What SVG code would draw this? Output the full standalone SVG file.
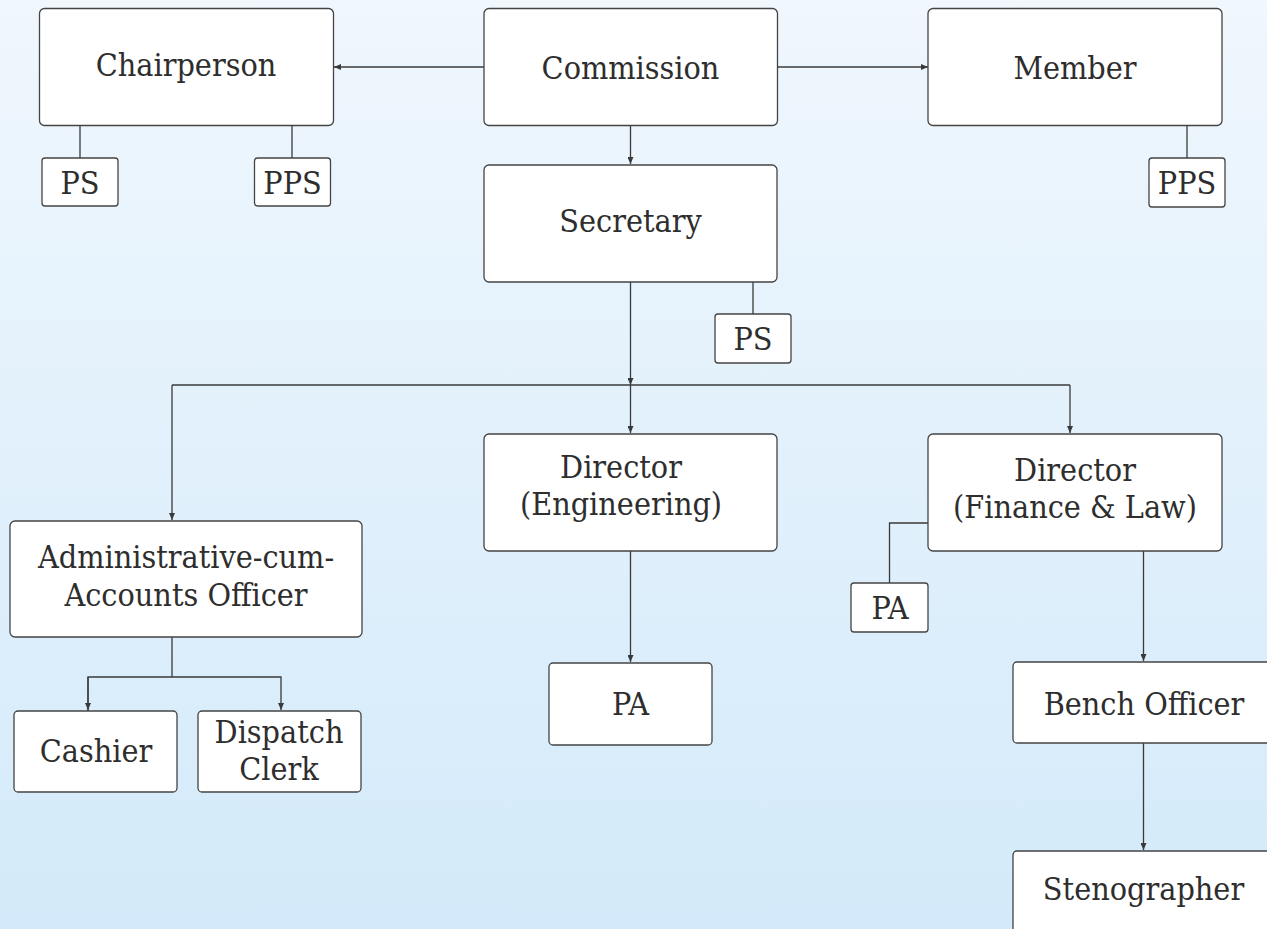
<svg xmlns="http://www.w3.org/2000/svg" width="1267" height="929" viewBox="0 0 1267 929">
<defs>
<linearGradient id="bg" x1="0" y1="0" x2="0" y2="1">
<stop offset="0" stop-color="#f0f7fd"/>
<stop offset="1" stop-color="#d3eafa"/>
</linearGradient>
<marker id="ah" markerUnits="userSpaceOnUse" markerWidth="7" markerHeight="6" refX="7" refY="3" orient="auto">
<path d="M0,0 L7,3 L0,6 z" fill="#3a3a3a"/>
</marker>
</defs>
<style>
.box{fill:#fff;stroke:#444;stroke-width:1.3}
.t{font-family:"DejaVu Serif Condensed","DejaVu Serif",serif;font-stretch:condensed;font-size:32px;fill:#2e2e2e;text-anchor:middle}
.c{fill:none;stroke:#3a3a3a;stroke-width:1.3}
.a{marker-end:url(#ah)}
</style>
<rect width="1267" height="929" fill="url(#bg)"/>
<g id="connectors">
<line class="c a" x1="484" y1="67" x2="334" y2="67"/>
<line class="c a" x1="777" y1="67" x2="928" y2="67"/>
<line class="c a" x1="630.5" y1="125" x2="630.5" y2="164"/>
<line class="c" x1="80" y1="125" x2="80" y2="158"/>
<line class="c" x1="292" y1="125" x2="292" y2="158"/>
<line class="c" x1="1187" y1="125" x2="1187" y2="158"/>
<line class="c" x1="753" y1="282" x2="753" y2="314"/>
<line class="c a" x1="630.5" y1="282" x2="630.5" y2="385"/>
<line class="c a" x1="630.5" y1="385" x2="630.5" y2="433"/>
<line class="c" x1="172" y1="385" x2="1070" y2="385"/>
<line class="c a" x1="172" y1="385" x2="172" y2="520"/>
<line class="c a" x1="1070" y1="385" x2="1070" y2="433"/>
<line class="c a" x1="630.5" y1="551" x2="630.5" y2="662"/>
<polyline class="c" points="928,523 889.5,523 889.5,583"/>
<line class="c a" x1="1143.5" y1="551" x2="1143.5" y2="661"/>
<line class="c a" x1="1143.5" y1="743" x2="1143.5" y2="850"/>
<line class="c" x1="172" y1="637" x2="172" y2="677"/>
<polyline class="c a" points="88,711 88,677 281,677 281,710" style="marker-end:url(#ah)"/>
<line class="c a" x1="88" y1="677" x2="88" y2="710"/>
</g>
<g id="chairperson"><rect class="box" x="39.5" y="8.5" width="294" height="117" rx="5"/><text class="t" x="186" y="76">Chairperson</text></g>
<g id="commission"><rect class="box" x="484" y="8.5" width="293.5" height="117" rx="5"/><text class="t" x="630.5" y="79">Commission</text></g>
<g id="member"><rect class="box" x="928" y="8.5" width="294" height="117" rx="5"/><text class="t" x="1075" y="79">Member</text></g>
<g id="chair-ps"><rect class="box" x="42" y="158" width="76" height="48" rx="3"/><text class="t" x="80" y="194">PS</text></g>
<g id="chair-pps"><rect class="box" x="254.5" y="158" width="76" height="48" rx="3"/><text class="t" x="292.5" y="194">PPS</text></g>
<g id="member-pps"><rect class="box" x="1149" y="158" width="76" height="49" rx="3"/><text class="t" x="1187" y="194">PPS</text></g>
<g id="secretary"><rect class="box" x="484" y="165" width="293" height="117" rx="5"/><text class="t" x="630.5" y="232">Secretary</text></g>
<g id="secretary-ps"><rect class="box" x="715" y="314" width="76" height="49" rx="3"/><text class="t" x="753" y="350">PS</text></g>
<g id="director-engineering"><rect class="box" x="484" y="434" width="293" height="117" rx="5"/><text class="t" x="621" y="478">Director</text><text class="t" x="621" y="515">(Engineering)</text></g>
<g id="director-finance-law"><rect class="box" x="928" y="434" width="294" height="117" rx="5"/><text class="t" x="1075" y="481">Director</text><text class="t" x="1075" y="518">(Finance &amp; Law)</text></g>
<g id="admin-officer"><rect class="box" x="10" y="521" width="352" height="116" rx="5"/><text class="t" x="186" y="568">Administrative-cum-</text><text class="t" x="186" y="606">Accounts Officer</text></g>
<g id="pa-engineering"><rect class="box" x="549" y="663" width="163" height="82" rx="4"/><text class="t" x="630.5" y="715">PA</text></g>
<g id="pa-finance"><rect class="box" x="851" y="583" width="77" height="49" rx="3"/><text class="t" x="890" y="619">PA</text></g>
<g id="bench-officer"><rect class="box" x="1013" y="662" width="270" height="81" rx="4"/><text class="t" x="1144" y="715">Bench Officer</text></g>
<g id="stenographer"><rect class="box" x="1013" y="851" width="270" height="100" rx="4"/><text class="t" x="1143.5" y="900">Stenographer</text></g>
<g id="cashier"><rect class="box" x="14" y="711" width="163" height="81" rx="4"/><text class="t" x="96" y="762">Cashier</text></g>
<g id="dispatch-clerk"><rect class="box" x="198" y="711" width="163" height="81" rx="4"/><text class="t" x="279" y="743">Dispatch</text><text class="t" x="279" y="780">Clerk</text></g>
</svg>
